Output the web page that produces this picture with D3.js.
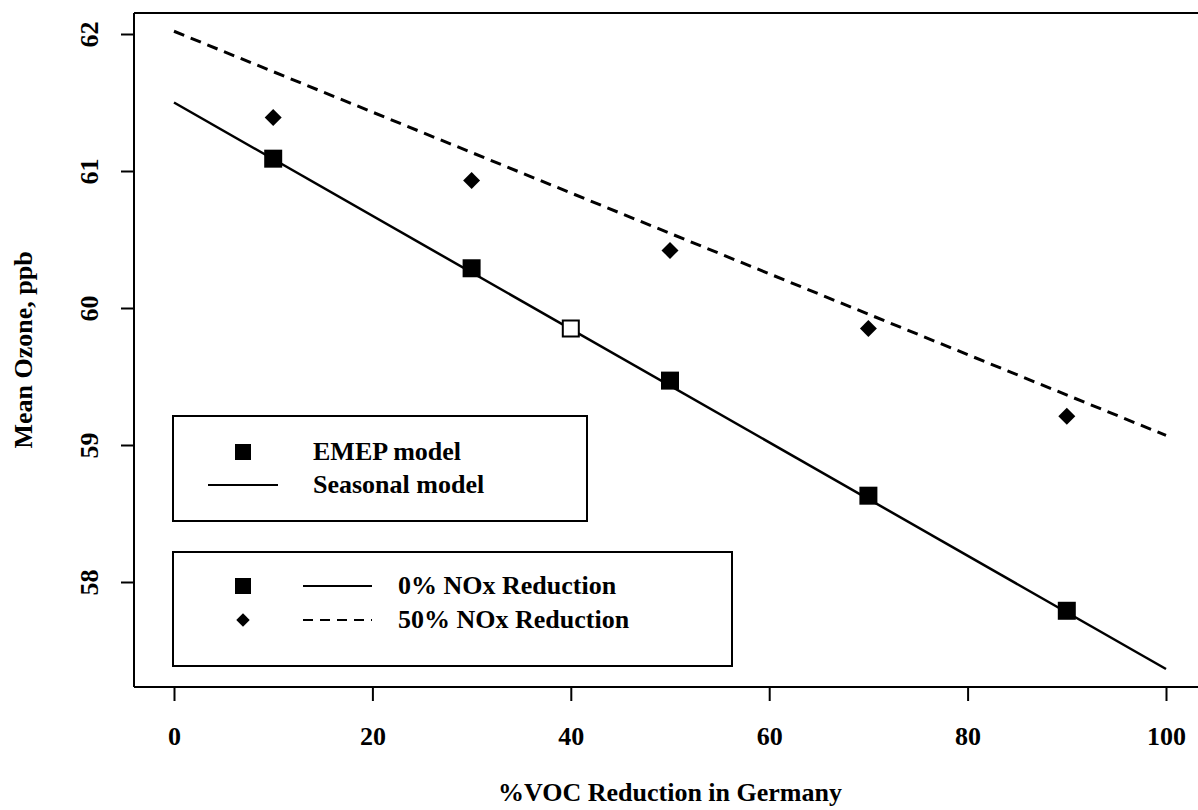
<!DOCTYPE html>
<html><head><meta charset="utf-8">
<script src="https://cdn.jsdelivr.net/npm/d3@7/dist/d3.min.js"></script>
<style>
html,body{margin:0;padding:0;background:#fff;}
text{font-family:"Liberation Serif","Times New Roman",serif;font-weight:bold;fill:#000;}
</style></head>
<body>
<svg id="c" width="1198" height="810"></svg>
<script>
// ---- data ----
const vocReduction = [10, 30, 50, 70, 90];
const emepNox0 = [61.09, 60.29, 59.47, 58.63, 57.79];
const emepNox50 = [61.39, 60.93, 60.42, 59.85, 59.21];
const hollowPoint = [{x: 40, y: 59.85}];
const seasonalX = [0, 100];
const seasonalNox0 = [61.50, 57.365];
const seasonalNox50 = [62.02, 59.07];
const xTicks = [0, 20, 40, 60, 80, 100];
const yTicks = [58, 59, 60, 61, 62];
const legend1 = ["EMEP model", "Seasonal model"];
const legend2 = ["0% NOx Reduction", "50% NOx Reduction"];
const xTitle = "%VOC Reduction in Germany";
const yTitle = "Mean Ozone, ppb";

const svg = d3.select("#c");
const x = d3.scaleLinear().domain([0, 100]).range([174, 1166]);
const y = d3.scaleLinear().domain([58, 62]).range([582, 34]);
const plotLeft = 134, plotBottom = 687, plotTop = 13, plotRight = 1198;
const font = '"Liberation Serif",serif';

// frame
svg.append("line").attr("x1", plotLeft).attr("x2", plotLeft).attr("y1", plotTop).attr("y2", plotBottom)
  .attr("stroke", "#000").attr("stroke-width", 2);
svg.append("line").attr("x1", plotLeft).attr("x2", plotRight).attr("y1", plotTop).attr("y2", plotTop)
  .attr("stroke", "#000").attr("stroke-width", 2);

// x axis
const gx = svg.append("g").attr("transform", `translate(0,${plotBottom})`)
  .call(d3.axisBottom(x).tickValues(xTicks).tickSize(14).tickSizeOuter(0).tickFormat(d3.format("d")));
gx.select(".domain").remove();
svg.append("line").attr("x1", plotLeft).attr("x2", plotRight).attr("y1", plotBottom).attr("y2", plotBottom)
  .attr("stroke", "#000").attr("stroke-width", 2);
gx.selectAll(".tick line").attr("stroke", "#000").attr("stroke-width", 2);
gx.selectAll(".tick text").attr("y", 58).attr("dy", 0).attr("fill", "#000")
  .style("font-size", "26px").style("font-family", font).style("font-weight", "bold");

// y axis
const gy = svg.append("g").attr("transform", `translate(${plotLeft},0)`)
  .call(d3.axisLeft(y).tickValues(yTicks).tickSize(13).tickSizeOuter(0).tickFormat(d3.format("d")));
gy.select(".domain").remove();
gy.selectAll(".tick line").attr("stroke", "#000").attr("stroke-width", 2);
gy.selectAll(".tick text")
  .attr("x", null).attr("dy", null).attr("fill", "#000")
  .attr("text-anchor", "middle")
  .attr("transform", "translate(-36,0) rotate(-90)")
  .style("font-size", "26px").style("font-family", font).style("font-weight", "bold");

// titles
svg.append("text").attr("x", 670).attr("y", 801).attr("text-anchor", "middle")
  .style("font-size", "26px").text(xTitle);
svg.append("text").attr("transform", `translate(32,${(plotTop + plotBottom) / 2}) rotate(-90)`)
  .attr("text-anchor", "middle").style("font-size", "26px").text(yTitle);

// seasonal lines
const line = d3.line().x(d => x(d[0])).y(d => y(d[1]));
svg.append("path").datum(seasonalX.map((v, i) => [v, seasonalNox0[i]]))
  .attr("d", line).attr("fill", "none").attr("stroke", "#000").attr("stroke-width", 2.5);
svg.append("path").datum(seasonalX.map((v, i) => [v, seasonalNox50[i]]))
  .attr("d", line).attr("fill", "none").attr("stroke", "#000").attr("stroke-width", 3)
  .attr("stroke-dasharray", "11,7");

// EMEP points
const sq = d3.symbol().type(d3.symbolSquare).size(18 * 18);
const dia = d3.symbol().type(d3.symbolSquare).size(12 * 12);
svg.selectAll(".sq").data(vocReduction.map((v, i) => [v, emepNox0[i]])).join("path")
  .attr("class", "sq").attr("d", sq)
  .attr("transform", d => `translate(${x(d[0])},${y(d[1])})`).attr("fill", "#000");
svg.selectAll(".hs").data(hollowPoint).join("path")
  .attr("class", "hs").attr("d", d3.symbol().type(d3.symbolSquare).size(16 * 16))
  .attr("transform", d => `translate(${x(d.x)},${y(d.y)})`)
  .attr("fill", "#fff").attr("stroke", "#000").attr("stroke-width", 2);
svg.selectAll(".di").data(vocReduction.map((v, i) => [v, emepNox50[i]])).join("path")
  .attr("class", "di").attr("d", dia)
  .attr("transform", d => `translate(${x(d[0])},${y(d[1])}) rotate(45)`).attr("fill", "#000");

// legend 1
svg.append("rect").attr("x", 173).attr("y", 416).attr("width", 414).attr("height", 105)
  .attr("fill", "#fff").attr("stroke", "#000").attr("stroke-width", 2);
svg.append("path").attr("d", d3.symbol().type(d3.symbolSquare).size(16 * 16))
  .attr("transform", "translate(243,452)").attr("fill", "#000");
svg.append("line").attr("x1", 208).attr("x2", 278).attr("y1", 485).attr("y2", 485)
  .attr("stroke", "#000").attr("stroke-width", 2);
svg.append("text").attr("x", 313).attr("y", 460).style("font-size", "26px").text(legend1[0]);
svg.append("text").attr("x", 313).attr("y", 493).style("font-size", "26px").text(legend1[1]);

// legend 2
svg.append("rect").attr("x", 173).attr("y", 552).attr("width", 559).attr("height", 114)
  .attr("fill", "#fff").attr("stroke", "#000").attr("stroke-width", 2);
svg.append("path").attr("d", d3.symbol().type(d3.symbolSquare).size(16 * 16))
  .attr("transform", "translate(243,586)").attr("fill", "#000");
svg.append("path").attr("d", d3.symbol().type(d3.symbolSquare).size(9.5 * 9.5))
  .attr("transform", "translate(243,620) rotate(45)").attr("fill", "#000");
svg.append("line").attr("x1", 303).attr("x2", 372).attr("y1", 586).attr("y2", 586)
  .attr("stroke", "#000").attr("stroke-width", 2);
svg.append("line").attr("x1", 303).attr("x2", 372).attr("y1", 620).attr("y2", 620)
  .attr("stroke", "#000").attr("stroke-width", 2).attr("stroke-dasharray", "10,7");
svg.append("text").attr("x", 398).attr("y", 594).style("font-size", "26px").text(legend2[0]);
svg.append("text").attr("x", 398).attr("y", 628).style("font-size", "26px").text(legend2[1]);
</script>
</body></html>
